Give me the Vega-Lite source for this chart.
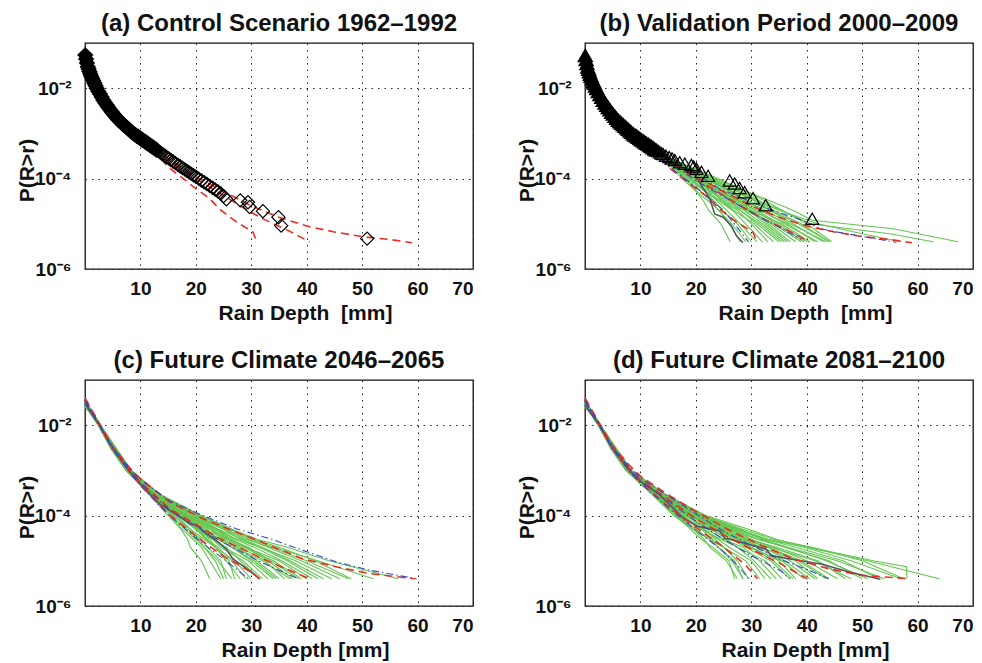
{
"$schema": "https://vega.github.io/schema/vega-lite/v6.json",
"background": "white",
"padding": {"left": 15, "top": 11, "right": 0, "bottom": 0},
"columns": 2,
"spacing": {"row": 111, "column": 112},
"bounds": "flush",
"datasets": {
"a": [
{"s":"m","k":"m","x":0.05,"p":0.054},{"s":"m","k":"m","x":0.2,"p":0.044},{"s":"m","k":"m","x":0.35,"p":0.036},{"s":"m","k":"m","x":0.5,"p":0.030},{"s":"m","k":"m","x":0.65,"p":0.0267},{"s":"m","k":"m","x":0.8,"p":0.0235},{"s":"m","k":"m","x":0.95,"p":0.0208},{"s":"m","k":"m","x":1.1,"p":0.0187},{"s":"m","k":"m","x":1.3,"p":0.0165},{"s":"m","k":"m","x":1.5,"p":0.0146},{"s":"m","k":"m","x":1.7,"p":0.0129},{"s":"m","k":"m","x":1.9,"p":0.0114},{"s":"m","k":"m","x":2.1,"p":0.0100},{"s":"m","k":"m","x":2.4,"p":0.0086},{"s":"m","k":"m","x":2.7,"p":0.0074},{"s":"m","k":"m","x":3.0,"p":0.0064},{"s":"m","k":"m","x":3.3,"p":0.0055},{"s":"m","k":"m","x":3.6,"p":0.0048},{"s":"m","k":"m","x":3.9,"p":0.0043},{"s":"m","k":"m","x":4.2,"p":0.0038},{"s":"m","k":"m","x":4.5,"p":0.0034},{"s":"m","k":"m","x":4.8,"p":0.0030},{"s":"m","k":"m","x":5.1,"p":0.00272},{"s":"m","k":"m","x":5.4,"p":0.00245},{"s":"m","k":"m","x":5.7,"p":0.00221},{"s":"m","k":"m","x":6.0,"p":0.0020},{"s":"m","k":"m","x":6.3,"p":0.00185},{"s":"m","k":"m","x":6.6,"p":0.00171},{"s":"m","k":"m","x":6.9,"p":0.00158},{"s":"m","k":"m","x":7.2,"p":0.00147},{"s":"m","k":"m","x":7.5,"p":0.00136},{"s":"m","k":"m","x":7.8,"p":0.00126},{"s":"m","k":"m","x":8.1,"p":0.00117},{"s":"m","k":"m","x":8.4,"p":0.00108},{"s":"m","k":"m","x":8.7,"p":0.0010},{"s":"m","k":"m","x":9.0,"p":0.00094},{"s":"m","k":"m","x":9.3,"p":0.00089},{"s":"m","k":"m","x":9.6,"p":0.00084},{"s":"m","k":"m","x":9.9,"p":0.00079},{"s":"m","k":"m","x":10.2,"p":0.00074},{"s":"m","k":"m","x":10.5,"p":0.00070},{"s":"m","k":"m","x":10.8,"p":0.00066},{"s":"m","k":"m","x":11.1,"p":0.00062},{"s":"m","k":"m","x":11.4,"p":0.00059},{"s":"m","k":"m","x":11.7,"p":0.00055},{"s":"m","k":"m","x":12.0,"p":0.00052},{"s":"m","k":"m","x":12.3,"p":0.00049},{"s":"m","k":"m","x":12.6,"p":0.00046},{"s":"m","k":"m","x":12.9,"p":0.000435},{"s":"m","k":"m","x":13.2,"p":0.00041},{"s":"m","k":"m","x":13.5,"p":0.000385},{"s":"m","k":"m","x":13.8,"p":0.00036},{"s":"m","k":"m","x":14.1,"p":0.00034},{"s":"m","k":"m","x":14.4,"p":0.00032},{"s":"m","k":"m","x":14.7,"p":0.00030},{"s":"m","k":"m","x":15.1,"p":0.00028},{"s":"m","k":"m","x":15.5,"p":0.000258},{"s":"m","k":"m","x":15.9,"p":0.000238},{"s":"m","k":"m","x":16.3,"p":0.00022},{"s":"m","k":"m","x":16.8,"p":0.00020},{"s":"m","k":"m","x":17.2,"p":0.000185},{"s":"m","k":"m","x":17.6,"p":0.000172},{"s":"m","k":"m","x":18.0,"p":0.00016},{"s":"m","k":"m","x":18.4,"p":0.000148},{"s":"m","k":"m","x":18.8,"p":0.000137},{"s":"m","k":"m","x":19.2,"p":0.000127},{"s":"m","k":"m","x":19.6,"p":0.000118},{"s":"m","k":"m","x":20.0,"p":0.00011},{"s":"m","k":"m","x":20.5,"p":0.0001},{"s":"m","k":"m","x":21.0,"p":0.000091},{"s":"m","k":"m","x":21.5,"p":0.000083},{"s":"m","k":"m","x":22.0,"p":0.000076},{"s":"m","k":"m","x":22.5,"p":0.000069},{"s":"m","k":"m","x":23.0,"p":0.000063},{"s":"m","k":"m","x":23.5,"p":0.000057},{"s":"m","k":"m","x":24.0,"p":0.000052},{"s":"m","k":"m","x":24.5,"p":0.000047},{"s":"m","k":"m","x":25.0,"p":0.000041},{"s":"m","k":"m","x":25.5,"p":0.000035},{"s":"m","k":"m","x":28.0,"p":0.000033},{"s":"m","k":"m","x":29.4,"p":0.000030},{"s":"m","k":"m","x":29.7,"p":0.0000235},{"s":"m","k":"m","x":32.1,"p":0.000019},{"s":"m","k":"m","x":34.9,"p":0.000014},{"s":"m","k":"m","x":35.4,"p":0.0000091},{"s":"m","k":"m","x":50.9,"p":0.0000047},
{"s":"rL","k":"r","x":0,"p":0.05},{"s":"rL","k":"r","x":2.1,"p":0.01},{"s":"rL","k":"r","x":4.8,"p":0.003},{"s":"rL","k":"r","x":8.7,"p":0.001},{"s":"rL","k":"r","x":12,"p":0.00046},{"s":"rL","k":"r","x":15,"p":0.00018},{"s":"rL","k":"r","x":17.5,"p":0.000105},{"s":"rL","k":"r","x":20,"p":0.00006},{"s":"rL","k":"r","x":22.5,"p":0.000036},{"s":"rL","k":"r","x":24.3,"p":0.000021},{"s":"rL","k":"r","x":27.3,"p":0.000011},{"s":"rL","k":"r","x":30.3,"p":0.0000066},{"s":"rL","k":"r","x":31,"p":0.000004},
{"s":"rM","k":"r","x":0,"p":0.05},{"s":"rM","k":"r","x":2.1,"p":0.01},{"s":"rM","k":"r","x":4.8,"p":0.003},{"s":"rM","k":"r","x":8.7,"p":0.001},{"s":"rM","k":"r","x":12.2,"p":0.0005},{"s":"rM","k":"r","x":15,"p":0.00025},{"s":"rM","k":"r","x":20,"p":0.0001},{"s":"rM","k":"r","x":24,"p":0.00005},{"s":"rM","k":"r","x":28,"p":0.000025},{"s":"rM","k":"r","x":32,"p":0.000013},{"s":"rM","k":"r","x":36,"p":0.0000078},{"s":"rM","k":"r","x":40.5,"p":0.000004},
{"s":"rU","k":"r","x":0,"p":0.05},{"s":"rU","k":"r","x":2.1,"p":0.01},{"s":"rU","k":"r","x":4.8,"p":0.003},{"s":"rU","k":"r","x":8.7,"p":0.001},{"s":"rU","k":"r","x":12.2,"p":0.0005},{"s":"rU","k":"r","x":15,"p":0.00028},{"s":"rU","k":"r","x":20,"p":0.00011},{"s":"rU","k":"r","x":25,"p":0.000052},{"s":"rU","k":"r","x":30,"p":0.000025},{"s":"rU","k":"r","x":35,"p":0.000014},{"s":"rU","k":"r","x":40,"p":0.0000089},{"s":"rU","k":"r","x":45,"p":0.0000066},{"s":"rU","k":"r","x":50,"p":0.0000052},{"s":"rU","k":"r","x":55,"p":0.0000045},{"s":"rU","k":"r","x":59,"p":0.0000038}
],
"b": [
{"s":"m","k":"m","x":0.05,"p":0.054},{"s":"m","k":"m","x":0.2,"p":0.044},{"s":"m","k":"m","x":0.35,"p":0.036},{"s":"m","k":"m","x":0.5,"p":0.030},{"s":"m","k":"m","x":0.65,"p":0.0267},{"s":"m","k":"m","x":0.8,"p":0.0235},{"s":"m","k":"m","x":0.95,"p":0.0208},{"s":"m","k":"m","x":1.1,"p":0.0187},{"s":"m","k":"m","x":1.3,"p":0.0165},{"s":"m","k":"m","x":1.5,"p":0.0146},{"s":"m","k":"m","x":1.7,"p":0.0129},{"s":"m","k":"m","x":1.9,"p":0.0114},{"s":"m","k":"m","x":2.1,"p":0.0100},{"s":"m","k":"m","x":2.4,"p":0.0086},{"s":"m","k":"m","x":2.7,"p":0.0074},{"s":"m","k":"m","x":3.0,"p":0.0064},{"s":"m","k":"m","x":3.3,"p":0.0055},{"s":"m","k":"m","x":3.6,"p":0.0048},{"s":"m","k":"m","x":3.9,"p":0.0043},{"s":"m","k":"m","x":4.2,"p":0.0038},{"s":"m","k":"m","x":4.5,"p":0.0034},{"s":"m","k":"m","x":4.8,"p":0.0030},{"s":"m","k":"m","x":5.1,"p":0.00272},{"s":"m","k":"m","x":5.4,"p":0.00245},{"s":"m","k":"m","x":5.7,"p":0.00221},{"s":"m","k":"m","x":6.0,"p":0.0020},{"s":"m","k":"m","x":6.3,"p":0.00185},{"s":"m","k":"m","x":6.6,"p":0.00171},{"s":"m","k":"m","x":6.9,"p":0.00158},{"s":"m","k":"m","x":7.2,"p":0.00147},{"s":"m","k":"m","x":7.5,"p":0.00136},{"s":"m","k":"m","x":7.8,"p":0.00126},{"s":"m","k":"m","x":8.1,"p":0.00117},{"s":"m","k":"m","x":8.4,"p":0.00108},{"s":"m","k":"m","x":8.7,"p":0.0010},{"s":"m","k":"m","x":9.0,"p":0.00094},{"s":"m","k":"m","x":9.3,"p":0.00089},{"s":"m","k":"m","x":9.6,"p":0.00084},{"s":"m","k":"m","x":9.9,"p":0.00079},{"s":"m","k":"m","x":10.2,"p":0.00074},{"s":"m","k":"m","x":10.5,"p":0.00070},{"s":"m","k":"m","x":10.8,"p":0.00066},{"s":"m","k":"m","x":11.1,"p":0.00062},{"s":"m","k":"m","x":11.4,"p":0.00059},{"s":"m","k":"m","x":11.7,"p":0.00055},{"s":"m","k":"m","x":12.0,"p":0.00052},{"s":"m","k":"m","x":12.3,"p":0.00049},{"s":"m","k":"m","x":12.6,"p":0.00046},{"s":"m","k":"m","x":12.9,"p":0.000435},{"s":"m","k":"m","x":13.2,"p":0.00041},{"s":"m","k":"m","x":13.5,"p":0.000385},{"s":"m","k":"m","x":13.8,"p":0.00036},
{"s":"m","k":"m","x":14.1,"p":0.00035},{"s":"m","k":"m","x":14.6,"p":0.00032},{"s":"m","k":"m","x":15.2,"p":0.00030},{"s":"m","k":"m","x":15.7,"p":0.00028},{"s":"m","k":"m","x":16.2,"p":0.000257},{"s":"m","k":"m","x":17.1,"p":0.00023},{"s":"m","k":"m","x":18.0,"p":0.000214},{"s":"m","k":"m","x":19.2,"p":0.0002},{"s":"m","k":"m","x":19.6,"p":0.000185},{"s":"m","k":"m","x":20.1,"p":0.000166},{"s":"m","k":"m","x":21.0,"p":0.000141},{"s":"m","k":"m","x":22.2,"p":0.000115},{"s":"m","k":"m","x":26.1,"p":0.000091},{"s":"m","k":"m","x":27.0,"p":0.000078},{"s":"m","k":"m","x":27.9,"p":0.000062},{"s":"m","k":"m","x":28.8,"p":0.00005},{"s":"m","k":"m","x":30.3,"p":0.000037},{"s":"m","k":"m","x":32.6,"p":0.0000257},{"s":"m","k":"m","x":41.0,"p":0.0000129},
{"s":"rL","k":"r","x":0,"p":0.05},{"s":"rL","k":"r","x":2.1,"p":0.01},{"s":"rL","k":"r","x":4.8,"p":0.003},{"s":"rL","k":"r","x":8.7,"p":0.001},{"s":"rL","k":"r","x":12,"p":0.00046},{"s":"rL","k":"r","x":15,"p":0.00018},{"s":"rL","k":"r","x":17.5,"p":0.000105},{"s":"rL","k":"r","x":20,"p":0.00006},{"s":"rL","k":"r","x":22.5,"p":0.000036},{"s":"rL","k":"r","x":24.3,"p":0.000021},{"s":"rL","k":"r","x":27.3,"p":0.000011},{"s":"rL","k":"r","x":30.3,"p":0.0000066},{"s":"rL","k":"r","x":31,"p":0.000004},
{"s":"rM","k":"r","x":0,"p":0.05},{"s":"rM","k":"r","x":2.1,"p":0.01},{"s":"rM","k":"r","x":4.8,"p":0.003},{"s":"rM","k":"r","x":8.7,"p":0.001},{"s":"rM","k":"r","x":12.2,"p":0.0005},{"s":"rM","k":"r","x":15,"p":0.00025},{"s":"rM","k":"r","x":20,"p":0.0001},{"s":"rM","k":"r","x":24,"p":0.00005},{"s":"rM","k":"r","x":28,"p":0.000025},{"s":"rM","k":"r","x":32,"p":0.000013},{"s":"rM","k":"r","x":36,"p":0.0000078},{"s":"rM","k":"r","x":40.5,"p":0.000004},
{"s":"rU","k":"r","x":0,"p":0.05},{"s":"rU","k":"r","x":2.1,"p":0.01},{"s":"rU","k":"r","x":4.8,"p":0.003},{"s":"rU","k":"r","x":8.7,"p":0.001},{"s":"rU","k":"r","x":12.2,"p":0.0005},{"s":"rU","k":"r","x":15,"p":0.00028},{"s":"rU","k":"r","x":20,"p":0.00011},{"s":"rU","k":"r","x":25,"p":0.000052},{"s":"rU","k":"r","x":30,"p":0.000025},{"s":"rU","k":"r","x":35,"p":0.000014},{"s":"rU","k":"r","x":40,"p":0.0000089},{"s":"rU","k":"r","x":45,"p":0.0000066},{"s":"rU","k":"r","x":50,"p":0.0000052},{"s":"rU","k":"r","x":55,"p":0.0000045},{"s":"rU","k":"r","x":59,"p":0.0000038},
{"s":"bL","k":"b","x":0,"p":0.05},{"s":"bL","k":"b","x":2.1,"p":0.01},{"s":"bL","k":"b","x":4.8,"p":0.003},{"s":"bL","k":"b","x":8.7,"p":0.001},{"s":"bL","k":"b","x":12,"p":0.00047},{"s":"bL","k":"b","x":15,"p":0.00019},{"s":"bL","k":"b","x":20,"p":0.000065},{"s":"bL","k":"b","x":25,"p":0.00002},{"s":"bL","k":"b","x":29.5,"p":0.000004},
{"s":"bM","k":"b","x":0,"p":0.05},{"s":"bM","k":"b","x":2.1,"p":0.01},{"s":"bM","k":"b","x":4.8,"p":0.003},{"s":"bM","k":"b","x":8.7,"p":0.001},{"s":"bM","k":"b","x":12.2,"p":0.0005},{"s":"bM","k":"b","x":15,"p":0.00024},{"s":"bM","k":"b","x":20,"p":0.00009},{"s":"bM","k":"b","x":25,"p":0.00004},{"s":"bM","k":"b","x":30,"p":0.000018},{"s":"bM","k":"b","x":35,"p":0.0000085},{"s":"bM","k":"b","x":39,"p":0.0000045},
{"s":"bU","k":"b","x":0,"p":0.05},{"s":"bU","k":"b","x":2.1,"p":0.01},{"s":"bU","k":"b","x":4.8,"p":0.003},{"s":"bU","k":"b","x":8.7,"p":0.001},{"s":"bU","k":"b","x":12.2,"p":0.0005},{"s":"bU","k":"b","x":15,"p":0.0003},{"s":"bU","k":"b","x":20,"p":0.00013},{"s":"bU","k":"b","x":24.3,"p":0.00006},{"s":"bU","k":"b","x":33.3,"p":0.000021},{"s":"bU","k":"b","x":39.6,"p":0.0000115},{"s":"bU","k":"b","x":42.6,"p":0.0000078},{"s":"bU","k":"b","x":44.4,"p":0.0000069},{"s":"bU","k":"b","x":56.2,"p":0.0000039},
{"s":"k","k":"k","x":0,"p":0.05},{"s":"k","k":"k","x":2.1,"p":0.01},{"s":"k","k":"k","x":4.8,"p":0.003},{"s":"k","k":"k","x":8.7,"p":0.001},{"s":"k","k":"k","x":12.2,"p":0.0005},{"s":"k","k":"k","x":15,"p":0.00025},{"s":"k","k":"k","x":19.5,"p":0.00014},{"s":"k","k":"k","x":20.6,"p":0.000085},{"s":"k","k":"k","x":22.5,"p":0.000036},{"s":"k","k":"k","x":23.4,"p":0.0000166},{"s":"k","k":"k","x":24.9,"p":0.000014},{"s":"k","k":"k","x":26.4,"p":0.0000091},{"s":"k","k":"k","x":27.3,"p":0.0000055},{"s":"k","k":"k","x":28.5,"p":0.0000038},
{"s":"g1","k":"g","x":0,"p":0.045},{"s":"g1","k":"g","x":2.1,"p":0.01},{"s":"g1","k":"g","x":4.8,"p":0.003},{"s":"g1","k":"g","x":8.7,"p":0.001},{"s":"g1","k":"g","x":12.2,"p":0.0005},{"s":"g1","k":"g","x":14.0,"p":0.0003},{"s":"g1","k":"g","x":17.5,"p":0.0001},{"s":"g1","k":"g","x":20.2,"p":0.00005},{"s":"g1","k":"g","x":21.5,"p":0.00003},{"s":"g1","k":"g","x":22.3,"p":0.00002},{"s":"g1","k":"g","x":24.5,"p":0.00001},{"s":"g1","k":"g","x":26.2,"p":0.000004},
{"s":"g2","k":"g","x":0,"p":0.045},{"s":"g2","k":"g","x":2.1,"p":0.01},{"s":"g2","k":"g","x":4.8,"p":0.003},{"s":"g2","k":"g","x":8.7,"p":0.001},{"s":"g2","k":"g","x":12.2,"p":0.0005},{"s":"g2","k":"g","x":14.0,"p":0.0003},{"s":"g2","k":"g","x":18.0,"p":0.0001},{"s":"g2","k":"g","x":20.3,"p":0.00005},{"s":"g2","k":"g","x":22.5,"p":0.00003},{"s":"g2","k":"g","x":24.2,"p":0.00002},{"s":"g2","k":"g","x":26.0,"p":0.00001},{"s":"g2","k":"g","x":28.0,"p":0.000004},
{"s":"g3","k":"g","x":0,"p":0.045},{"s":"g3","k":"g","x":2.1,"p":0.01},{"s":"g3","k":"g","x":4.8,"p":0.003},{"s":"g3","k":"g","x":8.7,"p":0.001},{"s":"g3","k":"g","x":12.2,"p":0.0005},{"s":"g3","k":"g","x":14.2,"p":0.0003},{"s":"g3","k":"g","x":18.5,"p":0.0001},{"s":"g3","k":"g","x":21.8,"p":0.00005},{"s":"g3","k":"g","x":23.5,"p":0.00003},{"s":"g3","k":"g","x":24.7,"p":0.00002},{"s":"g3","k":"g","x":27.5,"p":0.00001},{"s":"g3","k":"g","x":30.0,"p":0.000004},
{"s":"g4","k":"g","x":0,"p":0.045},{"s":"g4","k":"g","x":2.1,"p":0.01},{"s":"g4","k":"g","x":4.8,"p":0.003},{"s":"g4","k":"g","x":8.7,"p":0.001},{"s":"g4","k":"g","x":12.2,"p":0.0005},{"s":"g4","k":"g","x":14.2,"p":0.0003},{"s":"g4","k":"g","x":19.0,"p":0.0001},{"s":"g4","k":"g","x":21.9,"p":0.00005},{"s":"g4","k":"g","x":24.5,"p":0.00003},{"s":"g4","k":"g","x":26.6,"p":0.00002},{"s":"g4","k":"g","x":29.0,"p":0.00001},{"s":"g4","k":"g","x":32.0,"p":0.000004},
{"s":"g5","k":"g","x":0,"p":0.045},{"s":"g5","k":"g","x":2.1,"p":0.01},{"s":"g5","k":"g","x":4.8,"p":0.003},{"s":"g5","k":"g","x":8.7,"p":0.001},{"s":"g5","k":"g","x":12.2,"p":0.0005},{"s":"g5","k":"g","x":14.3,"p":0.0003},{"s":"g5","k":"g","x":19.5,"p":0.0001},{"s":"g5","k":"g","x":23.1,"p":0.00005},{"s":"g5","k":"g","x":25.0,"p":0.00003},{"s":"g5","k":"g","x":26.8,"p":0.00002},{"s":"g5","k":"g","x":30.5,"p":0.00001},{"s":"g5","k":"g","x":34.0,"p":0.000004},
{"s":"g6","k":"g","x":0,"p":0.045},{"s":"g6","k":"g","x":2.1,"p":0.01},{"s":"g6","k":"g","x":4.8,"p":0.003},{"s":"g6","k":"g","x":8.7,"p":0.001},{"s":"g6","k":"g","x":12.2,"p":0.0005},{"s":"g6","k":"g","x":14.4,"p":0.0003},{"s":"g6","k":"g","x":20.0,"p":0.0001},{"s":"g6","k":"g","x":23.2,"p":0.00005},{"s":"g6","k":"g","x":26.0,"p":0.00003},{"s":"g6","k":"g","x":28.7,"p":0.00002},{"s":"g6","k":"g","x":32.0,"p":0.00001},{"s":"g6","k":"g","x":36.0,"p":0.000004},
{"s":"g7","k":"g","x":0,"p":0.045},{"s":"g7","k":"g","x":2.1,"p":0.01},{"s":"g7","k":"g","x":4.8,"p":0.003},{"s":"g7","k":"g","x":8.7,"p":0.001},{"s":"g7","k":"g","x":12.2,"p":0.0005},{"s":"g7","k":"g","x":14.5,"p":0.0003},{"s":"g7","k":"g","x":20.5,"p":0.0001},{"s":"g7","k":"g","x":24.7,"p":0.00005},{"s":"g7","k":"g","x":27.0,"p":0.00003},{"s":"g7","k":"g","x":29.0,"p":0.00002},{"s":"g7","k":"g","x":33.5,"p":0.00001},{"s":"g7","k":"g","x":38.0,"p":0.000004},
{"s":"g8","k":"g","x":0,"p":0.045},{"s":"g8","k":"g","x":2.1,"p":0.01},{"s":"g8","k":"g","x":4.8,"p":0.003},{"s":"g8","k":"g","x":8.7,"p":0.001},{"s":"g8","k":"g","x":12.2,"p":0.0005},{"s":"g8","k":"g","x":14.5,"p":0.0003},{"s":"g8","k":"g","x":21.0,"p":0.0001},{"s":"g8","k":"g","x":24.8,"p":0.00005},{"s":"g8","k":"g","x":28.0,"p":0.00003},{"s":"g8","k":"g","x":31.0,"p":0.00002},{"s":"g8","k":"g","x":35.0,"p":0.00001},{"s":"g8","k":"g","x":40.0,"p":0.000004},
{"s":"g9","k":"g","x":0,"p":0.045},{"s":"g9","k":"g","x":2.1,"p":0.01},{"s":"g9","k":"g","x":4.8,"p":0.003},{"s":"g9","k":"g","x":8.7,"p":0.001},{"s":"g9","k":"g","x":12.2,"p":0.0005},{"s":"g9","k":"g","x":14.6,"p":0.0003},{"s":"g9","k":"g","x":21.5,"p":0.0001},{"s":"g9","k":"g","x":26.3,"p":0.00005},{"s":"g9","k":"g","x":29.0,"p":0.00003},{"s":"g9","k":"g","x":31.4,"p":0.00002},{"s":"g9","k":"g","x":36.5,"p":0.00001},{"s":"g9","k":"g","x":41.5,"p":0.000004},
{"s":"g10","k":"g","x":0,"p":0.045},{"s":"g10","k":"g","x":2.1,"p":0.01},{"s":"g10","k":"g","x":4.8,"p":0.003},{"s":"g10","k":"g","x":8.7,"p":0.001},{"s":"g10","k":"g","x":12.2,"p":0.0005},{"s":"g10","k":"g","x":14.7,"p":0.0003},{"s":"g10","k":"g","x":22.0,"p":0.0001},{"s":"g10","k":"g","x":26.3,"p":0.00005},{"s":"g10","k":"g","x":30.0,"p":0.00003},{"s":"g10","k":"g","x":33.3,"p":0.00002},{"s":"g10","k":"g","x":37.5,"p":0.00001},{"s":"g10","k":"g","x":43.0,"p":0.000004},
{"s":"g11","k":"g","x":0,"p":0.045},{"s":"g11","k":"g","x":2.1,"p":0.01},{"s":"g11","k":"g","x":4.8,"p":0.003},{"s":"g11","k":"g","x":8.7,"p":0.001},{"s":"g11","k":"g","x":12.2,"p":0.0005},{"s":"g11","k":"g","x":14.8,"p":0.0003},{"s":"g11","k":"g","x":22.5,"p":0.0001},{"s":"g11","k":"g","x":27.8,"p":0.00005},{"s":"g11","k":"g","x":31.0,"p":0.00003},{"s":"g11","k":"g","x":33.4,"p":0.00002},{"s":"g11","k":"g","x":38.5,"p":0.00001},{"s":"g11","k":"g","x":44.1,"p":0.000004},
{"s":"g12","k":"g","x":0,"p":0.045},{"s":"g12","k":"g","x":2.1,"p":0.01},{"s":"g12","k":"g","x":4.8,"p":0.003},{"s":"g12","k":"g","x":8.7,"p":0.001},{"s":"g12","k":"g","x":12.2,"p":0.0005},{"s":"g12","k":"g","x":14.6,"p":0.0003},{"s":"g12","k":"g","x":21.0,"p":0.0001},{"s":"g12","k":"g","x":25.2,"p":0.00005},{"s":"g12","k":"g","x":27.5,"p":0.00003},{"s":"g12","k":"g","x":29.6,"p":0.00002},{"s":"g12","k":"g","x":34.0,"p":0.00001},{"s":"g12","k":"g","x":39.0,"p":0.000004},
{"s":"g13","k":"g","x":0,"p":0.045},{"s":"g13","k":"g","x":2.1,"p":0.01},{"s":"g13","k":"g","x":4.8,"p":0.003},{"s":"g13","k":"g","x":8.7,"p":0.001},{"s":"g13","k":"g","x":12.2,"p":0.0005},{"s":"g13","k":"g","x":14.3,"p":0.0003},{"s":"g13","k":"g","x":19.8,"p":0.0001},{"s":"g13","k":"g","x":22.8,"p":0.00005},{"s":"g13","k":"g","x":25.5,"p":0.00003},{"s":"g13","k":"g","x":28.0,"p":0.00002},{"s":"g13","k":"g","x":31.0,"p":0.00001},{"s":"g13","k":"g","x":35.0,"p":0.000004},
{"s":"g14","k":"g","x":0,"p":0.045},{"s":"g14","k":"g","x":2.1,"p":0.01},{"s":"g14","k":"g","x":4.8,"p":0.003},{"s":"g14","k":"g","x":8.7,"p":0.001},{"s":"g14","k":"g","x":12.2,"p":0.0005},{"s":"g14","k":"g","x":14.8,"p":0.0003},{"s":"g14","k":"g","x":23.5,"p":0.0001},{"s":"g14","k":"g","x":29.3,"p":0.00005},{"s":"g14","k":"g","x":33.0,"p":0.00003},{"s":"g14","k":"g","x":35.5,"p":0.00002},{"s":"g14","k":"g","x":40.5,"p":0.00001},{"s":"g14","k":"g","x":55.0,"p":0.000006},{"s":"g14","k":"g","x":62.8,"p":0.000004},
{"s":"g15","k":"g","x":0,"p":0.045},{"s":"g15","k":"g","x":2.1,"p":0.01},{"s":"g15","k":"g","x":4.8,"p":0.003},{"s":"g15","k":"g","x":8.7,"p":0.001},{"s":"g15","k":"g","x":12.2,"p":0.0005},{"s":"g15","k":"g","x":14.8,"p":0.0003},{"s":"g15","k":"g","x":24.0,"p":0.0001},{"s":"g15","k":"g","x":29.5,"p":0.00005},{"s":"g15","k":"g","x":34.0,"p":0.00003},{"s":"g15","k":"g","x":37.5,"p":0.00002},{"s":"g15","k":"g","x":41.0,"p":0.000012},{"s":"g15","k":"g","x":55.6,"p":0.0000078},{"s":"g15","k":"g","x":67.3,"p":0.000004},
{"s":"g16","k":"g","x":0,"p":0.045},{"s":"g16","k":"g","x":2.1,"p":0.01},{"s":"g16","k":"g","x":4.8,"p":0.003},{"s":"g16","k":"g","x":8.7,"p":0.001},{"s":"g16","k":"g","x":12.2,"p":0.0005},{"s":"g16","k":"g","x":14.7,"p":0.0003},{"s":"g16","k":"g","x":22.5,"p":0.0001},{"s":"g16","k":"g","x":28.0,"p":0.00005},{"s":"g16","k":"g","x":31.5,"p":0.00003},{"s":"g16","k":"g","x":35.0,"p":0.00002},{"s":"g16","k":"g","x":42.0,"p":0.00001},{"s":"g16","k":"g","x":50.0,"p":0.000006},{"s":"g16","k":"g","x":57.0,"p":0.000004},
{"s":"g17","k":"g","x":12.2,"p":0.0005},{"s":"g17","k":"g","x":14.1,"p":0.0003},{"s":"g17","k":"g","x":18.2,"p":0.0001},{"s":"g17","k":"g","x":21.0,"p":0.00005},{"s":"g17","k":"g","x":23.0,"p":0.00003},{"s":"g17","k":"g","x":24.0,"p":0.00002},{"s":"g17","k":"g","x":26.5,"p":0.00001},{"s":"g17","k":"g","x":29.0,"p":0.000004},
{"s":"g18","k":"g","x":12.2,"p":0.0005},{"s":"g18","k":"g","x":14.3,"p":0.0003},{"s":"g18","k":"g","x":18.8,"p":0.0001},{"s":"g18","k":"g","x":22.5,"p":0.00005},{"s":"g18","k":"g","x":24.0,"p":0.00003},{"s":"g18","k":"g","x":25.5,"p":0.00002},{"s":"g18","k":"g","x":28.0,"p":0.00001},{"s":"g18","k":"g","x":31.0,"p":0.000004},
{"s":"g19","k":"g","x":12.2,"p":0.0005},{"s":"g19","k":"g","x":14.4,"p":0.0003},{"s":"g19","k":"g","x":19.3,"p":0.0001},{"s":"g19","k":"g","x":22.0,"p":0.00005},{"s":"g19","k":"g","x":25.0,"p":0.00003},{"s":"g19","k":"g","x":27.5,"p":0.00002},{"s":"g19","k":"g","x":30.0,"p":0.00001},{"s":"g19","k":"g","x":33.0,"p":0.000004},
{"s":"g20","k":"g","x":12.2,"p":0.0005},{"s":"g20","k":"g","x":14.5,"p":0.0003},{"s":"g20","k":"g","x":19.8,"p":0.0001},{"s":"g20","k":"g","x":23.8,"p":0.00005},{"s":"g20","k":"g","x":26.5,"p":0.00003},{"s":"g20","k":"g","x":28.0,"p":0.00002},{"s":"g20","k":"g","x":31.5,"p":0.00001},{"s":"g20","k":"g","x":35.5,"p":0.000004},
{"s":"g21","k":"g","x":12.2,"p":0.0005},{"s":"g21","k":"g","x":14.6,"p":0.0003},{"s":"g21","k":"g","x":20.3,"p":0.0001},{"s":"g21","k":"g","x":24.0,"p":0.00005},{"s":"g21","k":"g","x":27.5,"p":0.00003},{"s":"g21","k":"g","x":30.0,"p":0.00002},{"s":"g21","k":"g","x":33.0,"p":0.00001},{"s":"g21","k":"g","x":37.0,"p":0.000004},
{"s":"g22","k":"g","x":12.2,"p":0.0005},{"s":"g22","k":"g","x":14.7,"p":0.0003},{"s":"g22","k":"g","x":20.8,"p":0.0001},{"s":"g22","k":"g","x":25.5,"p":0.00005},{"s":"g22","k":"g","x":28.5,"p":0.00003},{"s":"g22","k":"g","x":30.5,"p":0.00002},{"s":"g22","k":"g","x":34.5,"p":0.00001},{"s":"g22","k":"g","x":39.5,"p":0.000004},
{"s":"g23","k":"g","x":12.2,"p":0.0005},{"s":"g23","k":"g","x":14.7,"p":0.0003},{"s":"g23","k":"g","x":21.3,"p":0.0001},{"s":"g23","k":"g","x":25.0,"p":0.00005},{"s":"g23","k":"g","x":29.5,"p":0.00003},{"s":"g23","k":"g","x":32.0,"p":0.00002},{"s":"g23","k":"g","x":36.0,"p":0.00001},{"s":"g23","k":"g","x":42.0,"p":0.000004},
{"s":"g24","k":"g","x":12.2,"p":0.0005},{"s":"g24","k":"g","x":14.8,"p":0.0003},{"s":"g24","k":"g","x":21.8,"p":0.0001},{"s":"g24","k":"g","x":26.8,"p":0.00005},{"s":"g24","k":"g","x":29.5,"p":0.00003},{"s":"g24","k":"g","x":32.5,"p":0.00002},{"s":"g24","k":"g","x":37.0,"p":0.00001},{"s":"g24","k":"g","x":43.5,"p":0.000004},
{"s":"g25","k":"g","x":12.2,"p":0.0005},{"s":"g25","k":"g","x":14.9,"p":0.0003},{"s":"g25","k":"g","x":22.3,"p":0.0001},{"s":"g25","k":"g","x":27.0,"p":0.00005},{"s":"g25","k":"g","x":31.5,"p":0.00003},{"s":"g25","k":"g","x":34.0,"p":0.00002},{"s":"g25","k":"g","x":39.0,"p":0.00001},{"s":"g25","k":"g","x":44.0,"p":0.000004},
{"s":"g26","k":"g","x":12.2,"p":0.0005},{"s":"g26","k":"g","x":14.5,"p":0.0003},{"s":"g26","k":"g","x":20.0,"p":0.0001},{"s":"g26","k":"g","x":24.5,"p":0.00005},{"s":"g26","k":"g","x":26.5,"p":0.00003},{"s":"g26","k":"g","x":29.5,"p":0.00002},{"s":"g26","k":"g","x":32.5,"p":0.00001},{"s":"g26","k":"g","x":36.5,"p":0.000004},
{"s":"g27","k":"g","x":12.2,"p":0.0005},{"s":"g27","k":"g","x":14.6,"p":0.0003},{"s":"g27","k":"g","x":21.2,"p":0.0001},{"s":"g27","k":"g","x":24.8,"p":0.00005},{"s":"g27","k":"g","x":28.3,"p":0.00003},{"s":"g27","k":"g","x":29.8,"p":0.00002},{"s":"g27","k":"g","x":35.5,"p":0.00001},{"s":"g27","k":"g","x":40.5,"p":0.000004},
{"s":"g28","k":"g","x":12.2,"p":0.0005},{"s":"g28","k":"g","x":14.9,"p":0.0003},{"s":"g28","k":"g","x":23.0,"p":0.0001},{"s":"g28","k":"g","x":28.5,"p":0.00005},{"s":"g28","k":"g","x":32.0,"p":0.00003},{"s":"g28","k":"g","x":35.5,"p":0.00002},{"s":"g28","k":"g","x":40.0,"p":0.00001},{"s":"g28","k":"g","x":44.5,"p":0.000004}
],
"c": [
{"s":"g1","k":"g","x":0,"p":0.028},{"s":"g1","k":"g","x":2.4,"p":0.01},{"s":"g1","k":"g","x":4.7,"p":0.003},{"s":"g1","k":"g","x":7.4,"p":0.001},{"s":"g1","k":"g","x":11.5,"p":0.0003},{"s":"g1","k":"g","x":15.0,"p":0.0001},{"s":"g1","k":"g","x":17.3,"p":0.00005},{"s":"g1","k":"g","x":18.5,"p":0.00003},{"s":"g1","k":"g","x":19.0,"p":0.00002},{"s":"g1","k":"g","x":21.0,"p":0.00001},{"s":"g1","k":"g","x":22.5,"p":0.000004},
{"s":"g2","k":"g","x":0,"p":0.028},{"s":"g2","k":"g","x":2.4,"p":0.01},{"s":"g2","k":"g","x":4.7,"p":0.003},{"s":"g2","k":"g","x":7.4,"p":0.001},{"s":"g2","k":"g","x":11.8,"p":0.0003},{"s":"g2","k":"g","x":15.5,"p":0.0001},{"s":"g2","k":"g","x":17.5,"p":0.00005},{"s":"g2","k":"g","x":19.5,"p":0.00003},{"s":"g2","k":"g","x":21.0,"p":0.00002},{"s":"g2","k":"g","x":22.5,"p":0.00001},{"s":"g2","k":"g","x":24.5,"p":0.000004},
{"s":"g3","k":"g","x":0,"p":0.030},{"s":"g3","k":"g","x":2.5,"p":0.01},{"s":"g3","k":"g","x":4.9,"p":0.003},{"s":"g3","k":"g","x":7.7,"p":0.001},{"s":"g3","k":"g","x":12.0,"p":0.0003},{"s":"g3","k":"g","x":16.0,"p":0.0001},{"s":"g3","k":"g","x":19.0,"p":0.00005},{"s":"g3","k":"g","x":20.5,"p":0.00003},{"s":"g3","k":"g","x":21.5,"p":0.00002},{"s":"g3","k":"g","x":24.0,"p":0.00001},{"s":"g3","k":"g","x":26.5,"p":0.000004},
{"s":"g4","k":"g","x":0,"p":0.030},{"s":"g4","k":"g","x":2.5,"p":0.01},{"s":"g4","k":"g","x":4.9,"p":0.003},{"s":"g4","k":"g","x":7.7,"p":0.001},{"s":"g4","k":"g","x":12.0,"p":0.0003},{"s":"g4","k":"g","x":16.5,"p":0.0001},{"s":"g4","k":"g","x":19.0,"p":0.00005},{"s":"g4","k":"g","x":21.5,"p":0.00003},{"s":"g4","k":"g","x":23.5,"p":0.00002},{"s":"g4","k":"g","x":25.5,"p":0.00001},{"s":"g4","k":"g","x":28.0,"p":0.000004},
{"s":"g5","k":"g","x":0,"p":0.032},{"s":"g5","k":"g","x":2.6,"p":0.01},{"s":"g5","k":"g","x":5.0,"p":0.003},{"s":"g5","k":"g","x":7.9,"p":0.001},{"s":"g5","k":"g","x":12.2,"p":0.0003},{"s":"g5","k":"g","x":16.8,"p":0.0001},{"s":"g5","k":"g","x":20.3,"p":0.00005},{"s":"g5","k":"g","x":22.0,"p":0.00003},{"s":"g5","k":"g","x":23.5,"p":0.00002},{"s":"g5","k":"g","x":27.0,"p":0.00001},{"s":"g5","k":"g","x":30.0,"p":0.000004},
{"s":"g6","k":"g","x":0,"p":0.026},{"s":"g6","k":"g","x":2.7,"p":0.01},{"s":"g6","k":"g","x":5.2,"p":0.003},{"s":"g6","k":"g","x":8.1,"p":0.001},{"s":"g6","k":"g","x":12.3,"p":0.0003},{"s":"g6","k":"g","x":17.0,"p":0.0001},{"s":"g6","k":"g","x":20.0,"p":0.00005},{"s":"g6","k":"g","x":23.0,"p":0.00003},{"s":"g6","k":"g","x":25.5,"p":0.00002},{"s":"g6","k":"g","x":28.0,"p":0.00001},{"s":"g6","k":"g","x":31.5,"p":0.000004},
{"s":"g7","k":"g","x":0,"p":0.032},{"s":"g7","k":"g","x":2.6,"p":0.01},{"s":"g7","k":"g","x":5.0,"p":0.003},{"s":"g7","k":"g","x":7.9,"p":0.001},{"s":"g7","k":"g","x":12.4,"p":0.0003},{"s":"g7","k":"g","x":17.5,"p":0.0001},{"s":"g7","k":"g","x":21.5,"p":0.00005},{"s":"g7","k":"g","x":23.5,"p":0.00003},{"s":"g7","k":"g","x":25.0,"p":0.00002},{"s":"g7","k":"g","x":29.5,"p":0.00001},{"s":"g7","k":"g","x":33.0,"p":0.000004},
{"s":"g8","k":"g","x":0,"p":0.030},{"s":"g8","k":"g","x":2.5,"p":0.01},{"s":"g8","k":"g","x":4.9,"p":0.003},{"s":"g8","k":"g","x":7.7,"p":0.001},{"s":"g8","k":"g","x":12.5,"p":0.0003},{"s":"g8","k":"g","x":17.5,"p":0.0001},{"s":"g8","k":"g","x":21.0,"p":0.00005},{"s":"g8","k":"g","x":24.5,"p":0.00003},{"s":"g8","k":"g","x":27.5,"p":0.00002},{"s":"g8","k":"g","x":31.0,"p":0.00001},{"s":"g8","k":"g","x":35.0,"p":0.000004},
{"s":"g9","k":"g","x":0,"p":0.032},{"s":"g9","k":"g","x":2.6,"p":0.01},{"s":"g9","k":"g","x":5.0,"p":0.003},{"s":"g9","k":"g","x":7.9,"p":0.001},{"s":"g9","k":"g","x":12.6,"p":0.0003},{"s":"g9","k":"g","x":18.0,"p":0.0001},{"s":"g9","k":"g","x":22.5,"p":0.00005},{"s":"g9","k":"g","x":25.0,"p":0.00003},{"s":"g9","k":"g","x":27.0,"p":0.00002},{"s":"g9","k":"g","x":32.0,"p":0.00001},{"s":"g9","k":"g","x":37.0,"p":0.000004},
{"s":"g10","k":"g","x":0,"p":0.026},{"s":"g10","k":"g","x":2.7,"p":0.01},{"s":"g10","k":"g","x":5.2,"p":0.003},{"s":"g10","k":"g","x":8.1,"p":0.001},{"s":"g10","k":"g","x":12.7,"p":0.0003},{"s":"g10","k":"g","x":18.5,"p":0.0001},{"s":"g10","k":"g","x":22.5,"p":0.00005},{"s":"g10","k":"g","x":26.0,"p":0.00003},{"s":"g10","k":"g","x":29.5,"p":0.00002},{"s":"g10","k":"g","x":33.5,"p":0.00001},{"s":"g10","k":"g","x":38.5,"p":0.000004},
{"s":"g11","k":"g","x":0,"p":0.035},{"s":"g11","k":"g","x":2.8,"p":0.01},{"s":"g11","k":"g","x":5.3,"p":0.003},{"s":"g11","k":"g","x":8.3,"p":0.001},{"s":"g11","k":"g","x":12.8,"p":0.0003},{"s":"g11","k":"g","x":18.5,"p":0.0001},{"s":"g11","k":"g","x":23.5,"p":0.00005},{"s":"g11","k":"g","x":26.5,"p":0.00003},{"s":"g11","k":"g","x":29.0,"p":0.00002},{"s":"g11","k":"g","x":35.0,"p":0.00001},{"s":"g11","k":"g","x":40.0,"p":0.000004},
{"s":"g12","k":"g","x":0,"p":0.032},{"s":"g12","k":"g","x":2.6,"p":0.01},{"s":"g12","k":"g","x":5.0,"p":0.003},{"s":"g12","k":"g","x":7.9,"p":0.001},{"s":"g12","k":"g","x":12.9,"p":0.0003},{"s":"g12","k":"g","x":19.0,"p":0.0001},{"s":"g12","k":"g","x":23.5,"p":0.00005},{"s":"g12","k":"g","x":27.5,"p":0.00003},{"s":"g12","k":"g","x":31.5,"p":0.00002},{"s":"g12","k":"g","x":36.5,"p":0.00001},{"s":"g12","k":"g","x":42.0,"p":0.000004},
{"s":"g13","k":"g","x":0,"p":0.035},{"s":"g13","k":"g","x":2.8,"p":0.01},{"s":"g13","k":"g","x":5.3,"p":0.003},{"s":"g13","k":"g","x":8.3,"p":0.001},{"s":"g13","k":"g","x":13.0,"p":0.0003},{"s":"g13","k":"g","x":19.5,"p":0.0001},{"s":"g13","k":"g","x":25.0,"p":0.00005},{"s":"g13","k":"g","x":28.0,"p":0.00003},{"s":"g13","k":"g","x":31.5,"p":0.00002},{"s":"g13","k":"g","x":38.0,"p":0.00001},{"s":"g13","k":"g","x":44.5,"p":0.000004},
{"s":"g14","k":"g","x":0,"p":0.026},{"s":"g14","k":"g","x":2.7,"p":0.01},{"s":"g14","k":"g","x":5.2,"p":0.003},{"s":"g14","k":"g","x":8.1,"p":0.001},{"s":"g14","k":"g","x":13.1,"p":0.0003},{"s":"g14","k":"g","x":20.0,"p":0.0001},{"s":"g14","k":"g","x":25.0,"p":0.00005},{"s":"g14","k":"g","x":29.0,"p":0.00003},{"s":"g14","k":"g","x":33.5,"p":0.00002},{"s":"g14","k":"g","x":40.0,"p":0.00001},{"s":"g14","k":"g","x":47.5,"p":0.000004},
{"s":"g15","k":"g","x":0,"p":0.035},{"s":"g15","k":"g","x":2.8,"p":0.01},{"s":"g15","k":"g","x":5.3,"p":0.003},{"s":"g15","k":"g","x":8.3,"p":0.001},{"s":"g15","k":"g","x":13.2,"p":0.0003},{"s":"g15","k":"g","x":20.5,"p":0.0001},{"s":"g15","k":"g","x":26.5,"p":0.00005},{"s":"g15","k":"g","x":30.0,"p":0.00003},{"s":"g15","k":"g","x":34.0,"p":0.00002},{"s":"g15","k":"g","x":42.0,"p":0.00001},{"s":"g15","k":"g","x":52.0,"p":0.000004},
{"s":"g16","k":"g","x":0,"p":0.035},{"s":"g16","k":"g","x":2.8,"p":0.01},{"s":"g16","k":"g","x":5.3,"p":0.003},{"s":"g16","k":"g","x":8.3,"p":0.001},{"s":"g16","k":"g","x":13.4,"p":0.0003},{"s":"g16","k":"g","x":21.0,"p":0.0001},{"s":"g16","k":"g","x":26.5,"p":0.00005},{"s":"g16","k":"g","x":31.0,"p":0.00003},{"s":"g16","k":"g","x":36.5,"p":0.00002},{"s":"g16","k":"g","x":44.0,"p":0.00001},{"s":"g16","k":"g","x":56.5,"p":0.000004},
{"s":"g17","k":"g","x":0,"p":0.028},{"s":"g17","k":"g","x":2.4,"p":0.01},{"s":"g17","k":"g","x":4.7,"p":0.003},{"s":"g17","k":"g","x":7.4,"p":0.001},{"s":"g17","k":"g","x":12.3,"p":0.0003},{"s":"g17","k":"g","x":17.2,"p":0.0001},{"s":"g17","k":"g","x":20.5,"p":0.00005},{"s":"g17","k":"g","x":22.5,"p":0.00003},{"s":"g17","k":"g","x":23.5,"p":0.00002},{"s":"g17","k":"g","x":26.0,"p":0.00001},{"s":"g17","k":"g","x":27.0,"p":0.000004},
{"s":"g18","k":"g","x":0,"p":0.030},{"s":"g18","k":"g","x":2.5,"p":0.01},{"s":"g18","k":"g","x":4.9,"p":0.003},{"s":"g18","k":"g","x":7.7,"p":0.001},{"s":"g18","k":"g","x":12.6,"p":0.0003},{"s":"g18","k":"g","x":17.8,"p":0.0001},{"s":"g18","k":"g","x":21.0,"p":0.00005},{"s":"g18","k":"g","x":24.0,"p":0.00003},{"s":"g18","k":"g","x":26.5,"p":0.00002},{"s":"g18","k":"g","x":30.0,"p":0.00001},{"s":"g18","k":"g","x":34.0,"p":0.000004},
{"s":"g19","k":"g","x":0,"p":0.032},{"s":"g19","k":"g","x":2.6,"p":0.01},{"s":"g19","k":"g","x":7.9,"p":0.001},{"s":"g19","k":"g","x":12.1,"p":0.0003},{"s":"g19","k":"g","x":16.2,"p":0.0001},{"s":"g19","k":"g","x":18.5,"p":0.00005},{"s":"g19","k":"g","x":21.0,"p":0.00003},{"s":"g19","k":"g","x":22.0,"p":0.00002},{"s":"g19","k":"g","x":24.5,"p":0.00001},{"s":"g19","k":"g","x":25.5,"p":0.000004},
{"s":"g20","k":"g","x":0,"p":0.030},{"s":"g20","k":"g","x":2.5,"p":0.01},{"s":"g20","k":"g","x":7.7,"p":0.001},{"s":"g20","k":"g","x":12.2,"p":0.0003},{"s":"g20","k":"g","x":16.6,"p":0.0001},{"s":"g20","k":"g","x":20.0,"p":0.00005},{"s":"g20","k":"g","x":21.8,"p":0.00003},{"s":"g20","k":"g","x":24.0,"p":0.00002},{"s":"g20","k":"g","x":26.5,"p":0.00001},{"s":"g20","k":"g","x":29.0,"p":0.000004},
{"s":"g21","k":"g","x":0,"p":0.026},{"s":"g21","k":"g","x":2.7,"p":0.01},{"s":"g21","k":"g","x":8.1,"p":0.001},{"s":"g21","k":"g","x":12.4,"p":0.0003},{"s":"g21","k":"g","x":17.3,"p":0.0001},{"s":"g21","k":"g","x":20.8,"p":0.00005},{"s":"g21","k":"g","x":23.0,"p":0.00003},{"s":"g21","k":"g","x":24.5,"p":0.00002},{"s":"g21","k":"g","x":28.5,"p":0.00001},{"s":"g21","k":"g","x":32.0,"p":0.000004},
{"s":"g22","k":"g","x":0,"p":0.035},{"s":"g22","k":"g","x":2.8,"p":0.01},{"s":"g22","k":"g","x":8.3,"p":0.001},{"s":"g22","k":"g","x":12.5,"p":0.0003},{"s":"g22","k":"g","x":17.8,"p":0.0001},{"s":"g22","k":"g","x":22.0,"p":0.00005},{"s":"g22","k":"g","x":24.0,"p":0.00003},{"s":"g22","k":"g","x":26.5,"p":0.00002},{"s":"g22","k":"g","x":30.5,"p":0.00001},{"s":"g22","k":"g","x":34.5,"p":0.000004},
{"s":"g23","k":"g","x":0,"p":0.032},{"s":"g23","k":"g","x":2.6,"p":0.01},{"s":"g23","k":"g","x":7.9,"p":0.001},{"s":"g23","k":"g","x":12.6,"p":0.0003},{"s":"g23","k":"g","x":18.2,"p":0.0001},{"s":"g23","k":"g","x":21.5,"p":0.00005},{"s":"g23","k":"g","x":25.5,"p":0.00003},{"s":"g23","k":"g","x":28.0,"p":0.00002},{"s":"g23","k":"g","x":32.5,"p":0.00001},{"s":"g23","k":"g","x":36.0,"p":0.000004},
{"s":"g24","k":"g","x":0,"p":0.030},{"s":"g24","k":"g","x":2.5,"p":0.01},{"s":"g24","k":"g","x":7.7,"p":0.001},{"s":"g24","k":"g","x":12.7,"p":0.0003},{"s":"g24","k":"g","x":18.7,"p":0.0001},{"s":"g24","k":"g","x":23.0,"p":0.00005},{"s":"g24","k":"g","x":25.5,"p":0.00003},{"s":"g24","k":"g","x":28.5,"p":0.00002},{"s":"g24","k":"g","x":34.0,"p":0.00001},{"s":"g24","k":"g","x":39.0,"p":0.000004},
{"s":"g25","k":"g","x":0,"p":0.026},{"s":"g25","k":"g","x":2.7,"p":0.01},{"s":"g25","k":"g","x":8.1,"p":0.001},{"s":"g25","k":"g","x":12.9,"p":0.0003},{"s":"g25","k":"g","x":19.2,"p":0.0001},{"s":"g25","k":"g","x":24.0,"p":0.00005},{"s":"g25","k":"g","x":27.0,"p":0.00003},{"s":"g25","k":"g","x":30.5,"p":0.00002},{"s":"g25","k":"g","x":35.5,"p":0.00001},{"s":"g25","k":"g","x":41.0,"p":0.000004},
{"s":"g26","k":"g","x":0,"p":0.035},{"s":"g26","k":"g","x":2.8,"p":0.01},{"s":"g26","k":"g","x":8.3,"p":0.001},{"s":"g26","k":"g","x":13.0,"p":0.0003},{"s":"g26","k":"g","x":19.8,"p":0.0001},{"s":"g26","k":"g","x":24.0,"p":0.00005},{"s":"g26","k":"g","x":28.5,"p":0.00003},{"s":"g26","k":"g","x":32.0,"p":0.00002},{"s":"g26","k":"g","x":37.0,"p":0.00001},{"s":"g26","k":"g","x":43.0,"p":0.000004},
{"s":"g27","k":"g","x":0,"p":0.032},{"s":"g27","k":"g","x":2.6,"p":0.01},{"s":"g27","k":"g","x":7.9,"p":0.001},{"s":"g27","k":"g","x":13.2,"p":0.0003},{"s":"g27","k":"g","x":20.2,"p":0.0001},{"s":"g27","k":"g","x":25.5,"p":0.00005},{"s":"g27","k":"g","x":29.5,"p":0.00003},{"s":"g27","k":"g","x":33.0,"p":0.00002},{"s":"g27","k":"g","x":39.0,"p":0.00001},{"s":"g27","k":"g","x":46.0,"p":0.000004},
{"s":"g28","k":"g","x":0,"p":0.028},{"s":"g28","k":"g","x":2.4,"p":0.01},{"s":"g28","k":"g","x":7.4,"p":0.001},{"s":"g28","k":"g","x":11.7,"p":0.0003},{"s":"g28","k":"g","x":15.8,"p":0.0001},{"s":"g28","k":"g","x":18.0,"p":0.00005},{"s":"g28","k":"g","x":20.0,"p":0.00003},{"s":"g28","k":"g","x":21.5,"p":0.00002},{"s":"g28","k":"g","x":23.5,"p":0.00001},{"s":"g28","k":"g","x":25.0,"p":0.000004},
{"s":"g29","k":"g","x":0,"p":0.035},{"s":"g29","k":"g","x":2.8,"p":0.01},{"s":"g29","k":"g","x":8.3,"p":0.001},{"s":"g29","k":"g","x":13.3,"p":0.0003},{"s":"g29","k":"g","x":20.8,"p":0.0001},{"s":"g29","k":"g","x":26.0,"p":0.00005},{"s":"g29","k":"g","x":30.5,"p":0.00003},{"s":"g29","k":"g","x":35.0,"p":0.00002},{"s":"g29","k":"g","x":41.5,"p":0.00001},{"s":"g29","k":"g","x":48.0,"p":0.000004},
{"s":"g30","k":"g","x":0,"p":0.026},{"s":"g30","k":"g","x":2.7,"p":0.01},{"s":"g30","k":"g","x":8.1,"p":0.001},{"s":"g30","k":"g","x":12.8,"p":0.0003},{"s":"g30","k":"g","x":18.0,"p":0.0001},{"s":"g30","k":"g","x":23.5,"p":0.00005},{"s":"g30","k":"g","x":26.0,"p":0.00003},{"s":"g30","k":"g","x":29.0,"p":0.00002},{"s":"g30","k":"g","x":33.0,"p":0.00001},{"s":"g30","k":"g","x":37.5,"p":0.000004},
{"s":"k","k":"k","x":0,"p":0.03},{"s":"k","k":"k","x":2.6,"p":0.01},{"s":"k","k":"k","x":5,"p":0.003},{"s":"k","k":"k","x":7.9,"p":0.001},{"s":"k","k":"k","x":10,"p":0.0005},{"s":"k","k":"k","x":13.5,"p":0.00018},{"s":"k","k":"k","x":17.7,"p":0.000085},{"s":"k","k":"k","x":19,"p":0.000065},{"s":"k","k":"k","x":20.2,"p":0.000061},{"s":"k","k":"k","x":21.3,"p":0.000045},{"s":"k","k":"k","x":23.7,"p":0.000028},{"s":"k","k":"k","x":25.5,"p":0.000018},{"s":"k","k":"k","x":26.7,"p":0.000011},{"s":"k","k":"k","x":29,"p":0.000007},{"s":"k","k":"k","x":31.5,"p":0.000004},
{"s":"rU","k":"r","x":0,"p":0.04},{"s":"rU","k":"r","x":2.6,"p":0.011},{"s":"rU","k":"r","x":5,"p":0.0034},{"s":"rU","k":"r","x":7.9,"p":0.0012},{"s":"rU","k":"r","x":10,"p":0.00065},{"s":"rU","k":"r","x":15.3,"p":0.0002},{"s":"rU","k":"r","x":21.3,"p":0.000085},{"s":"rU","k":"r","x":27.3,"p":0.000043},{"s":"rU","k":"r","x":33.3,"p":0.000022},{"s":"rU","k":"r","x":39.3,"p":0.000011},{"s":"rU","k":"r","x":45.3,"p":0.0000074},{"s":"rU","k":"r","x":51.4,"p":0.0000052},{"s":"rU","k":"r","x":59.5,"p":0.000004},
{"s":"rM","k":"r","x":0,"p":0.038},{"s":"rM","k":"r","x":2.6,"p":0.0105},{"s":"rM","k":"r","x":5,"p":0.0032},{"s":"rM","k":"r","x":7.9,"p":0.0011},{"s":"rM","k":"r","x":10,"p":0.00055},{"s":"rM","k":"r","x":15.3,"p":0.00014},{"s":"rM","k":"r","x":24.3,"p":0.000031},{"s":"rM","k":"r","x":33.3,"p":0.0000095},{"s":"rM","k":"r","x":40.5,"p":0.000004},
{"s":"rL","k":"r","x":0,"p":0.036},{"s":"rL","k":"r","x":2.6,"p":0.01},{"s":"rL","k":"r","x":5,"p":0.003},{"s":"rL","k":"r","x":7.9,"p":0.001},{"s":"rL","k":"r","x":10,"p":0.00048},{"s":"rL","k":"r","x":15,"p":0.00011},{"s":"rL","k":"r","x":20,"p":0.000035},{"s":"rL","k":"r","x":25,"p":0.0000126},{"s":"rL","k":"r","x":30,"p":0.0000056},{"s":"rL","k":"r","x":31.5,"p":0.000004},
{"s":"bU","k":"b","x":0,"p":0.036},{"s":"bU","k":"b","x":2.6,"p":0.0105},{"s":"bU","k":"b","x":5,"p":0.0033},{"s":"bU","k":"b","x":7.9,"p":0.00115},{"s":"bU","k":"b","x":10,"p":0.00063},{"s":"bU","k":"b","x":15.3,"p":0.00021},{"s":"bU","k":"b","x":21.3,"p":0.0001},{"s":"bU","k":"b","x":27.3,"p":0.000051},{"s":"bU","k":"b","x":33.3,"p":0.000031},{"s":"bU","k":"b","x":39.3,"p":0.000017},{"s":"bU","k":"b","x":45.3,"p":0.0000095},{"s":"bU","k":"b","x":51.4,"p":0.0000062},{"s":"bU","k":"b","x":59.8,"p":0.000004},
{"s":"bM","k":"b","x":0,"p":0.034},{"s":"bM","k":"b","x":2.6,"p":0.01},{"s":"bM","k":"b","x":5,"p":0.0031},{"s":"bM","k":"b","x":7.9,"p":0.00105},{"s":"bM","k":"b","x":10,"p":0.00053},{"s":"bM","k":"b","x":15.3,"p":0.00013},{"s":"bM","k":"b","x":24.3,"p":0.000028},{"s":"bM","k":"b","x":32,"p":0.000009},{"s":"bM","k":"b","x":38.5,"p":0.000004},
{"s":"bL","k":"b","x":0,"p":0.033},{"s":"bL","k":"b","x":2.6,"p":0.0098},{"s":"bL","k":"b","x":5,"p":0.0029},{"s":"bL","k":"b","x":7.9,"p":0.00096},{"s":"bL","k":"b","x":10,"p":0.00046},{"s":"bL","k":"b","x":15,"p":0.000105},{"s":"bL","k":"b","x":20,"p":0.000032},{"s":"bL","k":"b","x":25,"p":0.000011},{"s":"bL","k":"b","x":29.5,"p":0.000004}
],
"d": [
{"s":"g1","k":"g","x":0,"p":0.028},{"s":"g1","k":"g","x":2.4,"p":0.01},{"s":"g1","k":"g","x":4.7,"p":0.003},{"s":"g1","k":"g","x":7.4,"p":0.001},{"s":"g1","k":"g","x":12.0,"p":0.0003},{"s":"g1","k":"g","x":16.0,"p":0.0001},{"s":"g1","k":"g","x":19.5,"p":0.00005},{"s":"g1","k":"g","x":21.5,"p":0.00003},{"s":"g1","k":"g","x":22.5,"p":0.00002},{"s":"g1","k":"g","x":25.5,"p":0.00001},{"s":"g1","k":"g","x":27.5,"p":0.000004},
{"s":"g2","k":"g","x":0,"p":0.028},{"s":"g2","k":"g","x":2.4,"p":0.01},{"s":"g2","k":"g","x":4.7,"p":0.003},{"s":"g2","k":"g","x":7.4,"p":0.001},{"s":"g2","k":"g","x":12.3,"p":0.0003},{"s":"g2","k":"g","x":16.5,"p":0.0001},{"s":"g2","k":"g","x":19.5,"p":0.00005},{"s":"g2","k":"g","x":22.5,"p":0.00003},{"s":"g2","k":"g","x":25.0,"p":0.00002},{"s":"g2","k":"g","x":27.5,"p":0.00001},{"s":"g2","k":"g","x":29.5,"p":0.000004},
{"s":"g3","k":"g","x":0,"p":0.030},{"s":"g3","k":"g","x":2.5,"p":0.01},{"s":"g3","k":"g","x":4.9,"p":0.003},{"s":"g3","k":"g","x":7.7,"p":0.001},{"s":"g3","k":"g","x":12.5,"p":0.0003},{"s":"g3","k":"g","x":17.0,"p":0.0001},{"s":"g3","k":"g","x":21.5,"p":0.00005},{"s":"g3","k":"g","x":23.5,"p":0.00003},{"s":"g3","k":"g","x":25.0,"p":0.00002},{"s":"g3","k":"g","x":29.0,"p":0.00001},{"s":"g3","k":"g","x":31.5,"p":0.000004},
{"s":"g4","k":"g","x":0,"p":0.030},{"s":"g4","k":"g","x":2.5,"p":0.01},{"s":"g4","k":"g","x":4.9,"p":0.003},{"s":"g4","k":"g","x":7.7,"p":0.001},{"s":"g4","k":"g","x":12.8,"p":0.0003},{"s":"g4","k":"g","x":17.5,"p":0.0001},{"s":"g4","k":"g","x":21.0,"p":0.00005},{"s":"g4","k":"g","x":24.5,"p":0.00003},{"s":"g4","k":"g","x":27.5,"p":0.00002},{"s":"g4","k":"g","x":30.5,"p":0.00001},{"s":"g4","k":"g","x":33.5,"p":0.000004},
{"s":"g5","k":"g","x":0,"p":0.032},{"s":"g5","k":"g","x":2.6,"p":0.01},{"s":"g5","k":"g","x":5.0,"p":0.003},{"s":"g5","k":"g","x":7.9,"p":0.001},{"s":"g5","k":"g","x":13.0,"p":0.0003},{"s":"g5","k":"g","x":18.0,"p":0.0001},{"s":"g5","k":"g","x":23.0,"p":0.00005},{"s":"g5","k":"g","x":25.5,"p":0.00003},{"s":"g5","k":"g","x":27.5,"p":0.00002},{"s":"g5","k":"g","x":32.5,"p":0.00001},{"s":"g5","k":"g","x":35.5,"p":0.000004},
{"s":"g6","k":"g","x":0,"p":0.026},{"s":"g6","k":"g","x":2.7,"p":0.01},{"s":"g6","k":"g","x":5.2,"p":0.003},{"s":"g6","k":"g","x":8.1,"p":0.001},{"s":"g6","k":"g","x":13.1,"p":0.0003},{"s":"g6","k":"g","x":18.3,"p":0.0001},{"s":"g6","k":"g","x":22.5,"p":0.00005},{"s":"g6","k":"g","x":26.5,"p":0.00003},{"s":"g6","k":"g","x":30.0,"p":0.00002},{"s":"g6","k":"g","x":34.0,"p":0.00001},{"s":"g6","k":"g","x":37.5,"p":0.000004},
{"s":"g7","k":"g","x":0,"p":0.032},{"s":"g7","k":"g","x":2.6,"p":0.01},{"s":"g7","k":"g","x":5.0,"p":0.003},{"s":"g7","k":"g","x":7.9,"p":0.001},{"s":"g7","k":"g","x":13.2,"p":0.0003},{"s":"g7","k":"g","x":18.6,"p":0.0001},{"s":"g7","k":"g","x":24.0,"p":0.00005},{"s":"g7","k":"g","x":27.0,"p":0.00003},{"s":"g7","k":"g","x":29.5,"p":0.00002},{"s":"g7","k":"g","x":35.5,"p":0.00001},{"s":"g7","k":"g","x":39.5,"p":0.000004},
{"s":"g8","k":"g","x":0,"p":0.030},{"s":"g8","k":"g","x":2.5,"p":0.01},{"s":"g8","k":"g","x":4.9,"p":0.003},{"s":"g8","k":"g","x":7.7,"p":0.001},{"s":"g8","k":"g","x":13.3,"p":0.0003},{"s":"g8","k":"g","x":19.0,"p":0.0001},{"s":"g8","k":"g","x":23.5,"p":0.00005},{"s":"g8","k":"g","x":28.0,"p":0.00003},{"s":"g8","k":"g","x":32.0,"p":0.00002},{"s":"g8","k":"g","x":37.0,"p":0.00001},{"s":"g8","k":"g","x":41.5,"p":0.000004},
{"s":"g9","k":"g","x":0,"p":0.032},{"s":"g9","k":"g","x":2.6,"p":0.01},{"s":"g9","k":"g","x":5.0,"p":0.003},{"s":"g9","k":"g","x":7.9,"p":0.001},{"s":"g9","k":"g","x":13.4,"p":0.0003},{"s":"g9","k":"g","x":19.3,"p":0.0001},{"s":"g9","k":"g","x":25.5,"p":0.00005},{"s":"g9","k":"g","x":28.5,"p":0.00003},{"s":"g9","k":"g","x":31.5,"p":0.00002},{"s":"g9","k":"g","x":38.5,"p":0.00001},{"s":"g9","k":"g","x":43.5,"p":0.000004},
{"s":"g10","k":"g","x":0,"p":0.026},{"s":"g10","k":"g","x":2.7,"p":0.01},{"s":"g10","k":"g","x":5.2,"p":0.003},{"s":"g10","k":"g","x":8.1,"p":0.001},{"s":"g10","k":"g","x":13.5,"p":0.0003},{"s":"g10","k":"g","x":19.6,"p":0.0001},{"s":"g10","k":"g","x":25.0,"p":0.00005},{"s":"g10","k":"g","x":29.5,"p":0.00003},{"s":"g10","k":"g","x":34.0,"p":0.00002},{"s":"g10","k":"g","x":40.0,"p":0.00001},{"s":"g10","k":"g","x":45.5,"p":0.000004},
{"s":"g11","k":"g","x":0,"p":0.035},{"s":"g11","k":"g","x":2.8,"p":0.01},{"s":"g11","k":"g","x":5.3,"p":0.003},{"s":"g11","k":"g","x":8.3,"p":0.001},{"s":"g11","k":"g","x":13.6,"p":0.0003},{"s":"g11","k":"g","x":20.0,"p":0.0001},{"s":"g11","k":"g","x":26.5,"p":0.00005},{"s":"g11","k":"g","x":30.0,"p":0.00003},{"s":"g11","k":"g","x":33.5,"p":0.00002},{"s":"g11","k":"g","x":41.5,"p":0.00001},{"s":"g11","k":"g","x":48.0,"p":0.000004},
{"s":"g12","k":"g","x":0,"p":0.032},{"s":"g12","k":"g","x":2.6,"p":0.01},{"s":"g12","k":"g","x":5.0,"p":0.003},{"s":"g12","k":"g","x":7.9,"p":0.001},{"s":"g12","k":"g","x":13.8,"p":0.0003},{"s":"g12","k":"g","x":20.3,"p":0.0001},{"s":"g12","k":"g","x":26.0,"p":0.00005},{"s":"g12","k":"g","x":31.0,"p":0.00003},{"s":"g12","k":"g","x":36.5,"p":0.00002},{"s":"g12","k":"g","x":43.5,"p":0.00001},{"s":"g12","k":"g","x":51.0,"p":0.000004},
{"s":"g13","k":"g","x":0,"p":0.035},{"s":"g13","k":"g","x":2.8,"p":0.01},{"s":"g13","k":"g","x":5.3,"p":0.003},{"s":"g13","k":"g","x":8.3,"p":0.001},{"s":"g13","k":"g","x":14.0,"p":0.0003},{"s":"g13","k":"g","x":20.8,"p":0.0001},{"s":"g13","k":"g","x":28.0,"p":0.00005},{"s":"g13","k":"g","x":32.0,"p":0.00003},{"s":"g13","k":"g","x":36.5,"p":0.00002},{"s":"g13","k":"g","x":45.5,"p":0.00001},{"s":"g13","k":"g","x":54.0,"p":0.000004},
{"s":"g14","k":"g","x":0,"p":0.026},{"s":"g14","k":"g","x":2.7,"p":0.01},{"s":"g14","k":"g","x":5.2,"p":0.003},{"s":"g14","k":"g","x":8.1,"p":0.001},{"s":"g14","k":"g","x":14.2,"p":0.0003},{"s":"g14","k":"g","x":21.3,"p":0.0001},{"s":"g14","k":"g","x":27.5,"p":0.00005},{"s":"g14","k":"g","x":33.0,"p":0.00003},{"s":"g14","k":"g","x":39.5,"p":0.00002},{"s":"g14","k":"g","x":48.0,"p":0.00001},{"s":"g14","k":"g","x":57.0,"p":0.000004},
{"s":"g15","k":"g","x":0,"p":0.035},{"s":"g15","k":"g","x":2.8,"p":0.01},{"s":"g15","k":"g","x":5.3,"p":0.003},{"s":"g15","k":"g","x":8.3,"p":0.001},{"s":"g15","k":"g","x":14.4,"p":0.0003},{"s":"g15","k":"g","x":21.8,"p":0.0001},{"s":"g15","k":"g","x":29.5,"p":0.00005},{"s":"g15","k":"g","x":34.5,"p":0.00003},{"s":"g15","k":"g","x":40.0,"p":0.00002},{"s":"g15","k":"g","x":51.0,"p":0.00001},{"s":"g15","k":"g","x":63.9,"p":0.000004},
{"s":"g16","k":"g","x":0,"p":0.035},{"s":"g16","k":"g","x":2.8,"p":0.01},{"s":"g16","k":"g","x":5.3,"p":0.003},{"s":"g16","k":"g","x":8.3,"p":0.001},{"s":"g16","k":"g","x":14.0,"p":0.0003},{"s":"g16","k":"g","x":21.0,"p":0.0001},{"s":"g16","k":"g","x":27.0,"p":0.00005},{"s":"g16","k":"g","x":32.5,"p":0.00003},{"s":"g16","k":"g","x":40.5,"p":0.00002},{"s":"g16","k":"g","x":52.0,"p":0.00001},{"s":"g16","k":"g","x":58.0,"p":0.0000074},{"s":"g16","k":"g","x":58.1,"p":0.000004},
{"s":"g17","k":"g","x":0,"p":0.028},{"s":"g17","k":"g","x":2.4,"p":0.01},{"s":"g17","k":"g","x":4.7,"p":0.003},{"s":"g17","k":"g","x":7.4,"p":0.001},{"s":"g17","k":"g","x":12.7,"p":0.0003},{"s":"g17","k":"g","x":17.2,"p":0.0001},{"s":"g17","k":"g","x":21.0,"p":0.00005},{"s":"g17","k":"g","x":23.0,"p":0.00003},{"s":"g17","k":"g","x":24.0,"p":0.00002},{"s":"g17","k":"g","x":27.0,"p":0.00001},{"s":"g17","k":"g","x":28.5,"p":0.000004},
{"s":"g18","k":"g","x":0,"p":0.030},{"s":"g18","k":"g","x":2.5,"p":0.01},{"s":"g18","k":"g","x":4.9,"p":0.003},{"s":"g18","k":"g","x":7.7,"p":0.001},{"s":"g18","k":"g","x":13.2,"p":0.0003},{"s":"g18","k":"g","x":19.0,"p":0.0001},{"s":"g18","k":"g","x":24.5,"p":0.00005},{"s":"g18","k":"g","x":27.5,"p":0.00003},{"s":"g18","k":"g","x":30.0,"p":0.00002},{"s":"g18","k":"g","x":35.0,"p":0.00001},{"s":"g18","k":"g","x":38.0,"p":0.000004},
{"s":"g19","k":"g","x":0,"p":0.032},{"s":"g19","k":"g","x":2.6,"p":0.01},{"s":"g19","k":"g","x":7.9,"p":0.001},{"s":"g19","k":"g","x":12.6,"p":0.0003},{"s":"g19","k":"g","x":16.8,"p":0.0001},{"s":"g19","k":"g","x":20.0,"p":0.00005},{"s":"g19","k":"g","x":22.5,"p":0.00003},{"s":"g19","k":"g","x":24.0,"p":0.00002},{"s":"g19","k":"g","x":26.5,"p":0.00001},{"s":"g19","k":"g","x":28.5,"p":0.000004},
{"s":"g20","k":"g","x":0,"p":0.030},{"s":"g20","k":"g","x":2.5,"p":0.01},{"s":"g20","k":"g","x":7.7,"p":0.001},{"s":"g20","k":"g","x":12.9,"p":0.0003},{"s":"g20","k":"g","x":17.7,"p":0.0001},{"s":"g20","k":"g","x":21.5,"p":0.00005},{"s":"g20","k":"g","x":24.0,"p":0.00003},{"s":"g20","k":"g","x":26.0,"p":0.00002},{"s":"g20","k":"g","x":30.0,"p":0.00001},{"s":"g20","k":"g","x":32.5,"p":0.000004},
{"s":"g21","k":"g","x":0,"p":0.026},{"s":"g21","k":"g","x":2.7,"p":0.01},{"s":"g21","k":"g","x":8.1,"p":0.001},{"s":"g21","k":"g","x":13.0,"p":0.0003},{"s":"g21","k":"g","x":18.2,"p":0.0001},{"s":"g21","k":"g","x":22.0,"p":0.00005},{"s":"g21","k":"g","x":25.0,"p":0.00003},{"s":"g21","k":"g","x":28.5,"p":0.00002},{"s":"g21","k":"g","x":31.5,"p":0.00001},{"s":"g21","k":"g","x":34.5,"p":0.000004},
{"s":"g22","k":"g","x":0,"p":0.035},{"s":"g22","k":"g","x":2.8,"p":0.01},{"s":"g22","k":"g","x":8.3,"p":0.001},{"s":"g22","k":"g","x":13.2,"p":0.0003},{"s":"g22","k":"g","x":18.8,"p":0.0001},{"s":"g22","k":"g","x":23.5,"p":0.00005},{"s":"g22","k":"g","x":26.5,"p":0.00003},{"s":"g22","k":"g","x":29.0,"p":0.00002},{"s":"g22","k":"g","x":33.5,"p":0.00001},{"s":"g22","k":"g","x":37.0,"p":0.000004},
{"s":"g23","k":"g","x":0,"p":0.032},{"s":"g23","k":"g","x":2.6,"p":0.01},{"s":"g23","k":"g","x":7.9,"p":0.001},{"s":"g23","k":"g","x":13.3,"p":0.0003},{"s":"g23","k":"g","x":19.2,"p":0.0001},{"s":"g23","k":"g","x":24.0,"p":0.00005},{"s":"g23","k":"g","x":27.5,"p":0.00003},{"s":"g23","k":"g","x":31.0,"p":0.00002},{"s":"g23","k":"g","x":36.0,"p":0.00001},{"s":"g23","k":"g","x":40.5,"p":0.000004},
{"s":"g24","k":"g","x":0,"p":0.030},{"s":"g24","k":"g","x":2.5,"p":0.01},{"s":"g24","k":"g","x":7.7,"p":0.001},{"s":"g24","k":"g","x":13.5,"p":0.0003},{"s":"g24","k":"g","x":19.5,"p":0.0001},{"s":"g24","k":"g","x":24.5,"p":0.00005},{"s":"g24","k":"g","x":28.5,"p":0.00003},{"s":"g24","k":"g","x":33.0,"p":0.00002},{"s":"g24","k":"g","x":39.0,"p":0.00001},{"s":"g24","k":"g","x":44.0,"p":0.000004},
{"s":"g25","k":"g","x":0,"p":0.026},{"s":"g25","k":"g","x":2.7,"p":0.01},{"s":"g25","k":"g","x":8.1,"p":0.001},{"s":"g25","k":"g","x":13.6,"p":0.0003},{"s":"g25","k":"g","x":19.9,"p":0.0001},{"s":"g25","k":"g","x":26.0,"p":0.00005},{"s":"g25","k":"g","x":29.5,"p":0.00003},{"s":"g25","k":"g","x":34.5,"p":0.00002},{"s":"g25","k":"g","x":42.0,"p":0.00001},{"s":"g25","k":"g","x":47.0,"p":0.000004},
{"s":"g26","k":"g","x":0,"p":0.035},{"s":"g26","k":"g","x":2.8,"p":0.01},{"s":"g26","k":"g","x":8.3,"p":0.001},{"s":"g26","k":"g","x":13.8,"p":0.0003},{"s":"g26","k":"g","x":20.5,"p":0.0001},{"s":"g26","k":"g","x":26.5,"p":0.00005},{"s":"g26","k":"g","x":31.5,"p":0.00003},{"s":"g26","k":"g","x":36.0,"p":0.00002},{"s":"g26","k":"g","x":44.0,"p":0.00001},{"s":"g26","k":"g","x":50.0,"p":0.000004},
{"s":"g27","k":"g","x":0,"p":0.032},{"s":"g27","k":"g","x":2.6,"p":0.01},{"s":"g27","k":"g","x":7.9,"p":0.001},{"s":"g27","k":"g","x":14.1,"p":0.0003},{"s":"g27","k":"g","x":21.0,"p":0.0001},{"s":"g27","k":"g","x":27.5,"p":0.00005},{"s":"g27","k":"g","x":32.5,"p":0.00003},{"s":"g27","k":"g","x":38.0,"p":0.00002},{"s":"g27","k":"g","x":46.5,"p":0.00001},{"s":"g27","k":"g","x":53.0,"p":0.000004},
{"s":"g28","k":"g","x":0,"p":0.028},{"s":"g28","k":"g","x":2.4,"p":0.01},{"s":"g28","k":"g","x":7.4,"p":0.001},{"s":"g28","k":"g","x":12.2,"p":0.0003},{"s":"g28","k":"g","x":16.3,"p":0.0001},{"s":"g28","k":"g","x":19.0,"p":0.00005},{"s":"g28","k":"g","x":21.0,"p":0.00003},{"s":"g28","k":"g","x":23.0,"p":0.00002},{"s":"g28","k":"g","x":26.0,"p":0.00001},{"s":"g28","k":"g","x":27.0,"p":0.000004},
{"s":"g29","k":"g","x":0,"p":0.035},{"s":"g29","k":"g","x":2.8,"p":0.01},{"s":"g29","k":"g","x":8.3,"p":0.001},{"s":"g29","k":"g","x":14.3,"p":0.0003},{"s":"g29","k":"g","x":21.5,"p":0.0001},{"s":"g29","k":"g","x":28.5,"p":0.00005},{"s":"g29","k":"g","x":34.0,"p":0.00003},{"s":"g29","k":"g","x":41.0,"p":0.00002},{"s":"g29","k":"g","x":50.0,"p":0.00001},{"s":"g29","k":"g","x":57.5,"p":0.000004},
{"s":"g30","k":"g","x":0,"p":0.026},{"s":"g30","k":"g","x":2.7,"p":0.01},{"s":"g30","k":"g","x":8.1,"p":0.001},{"s":"g30","k":"g","x":13.4,"p":0.0003},{"s":"g30","k":"g","x":19.6,"p":0.0001},{"s":"g30","k":"g","x":25.0,"p":0.00005},{"s":"g30","k":"g","x":29.0,"p":0.00003},{"s":"g30","k":"g","x":33.0,"p":0.00002},{"s":"g30","k":"g","x":38.0,"p":0.00001},{"s":"g30","k":"g","x":42.0,"p":0.000004},
{"s":"k","k":"k","x":0,"p":0.028},{"s":"k","k":"k","x":2.6,"p":0.01},{"s":"k","k":"k","x":5,"p":0.003},{"s":"k","k":"k","x":8,"p":0.001},{"s":"k","k":"k","x":10,"p":0.00058},{"s":"k","k":"k","x":13.3,"p":0.0003},{"s":"k","k":"k","x":17.7,"p":0.000089},{"s":"k","k":"k","x":20.1,"p":0.000059},{"s":"k","k":"k","x":24.3,"p":0.000046},{"s":"k","k":"k","x":25.2,"p":0.000032},{"s":"k","k":"k","x":28.5,"p":0.000025},{"s":"k","k":"k","x":32.7,"p":0.000018},{"s":"k","k":"k","x":33.6,"p":0.000013},{"s":"k","k":"k","x":37.6,"p":0.0000107},{"s":"k","k":"k","x":43,"p":0.0000083},{"s":"k","k":"k","x":47.3,"p":0.0000058},{"s":"k","k":"k","x":53.3,"p":0.0000039},
{"s":"rU","k":"r","x":0,"p":0.04},{"s":"rU","k":"r","x":2.6,"p":0.011},{"s":"rU","k":"r","x":5,"p":0.0035},{"s":"rU","k":"r","x":8,"p":0.0013},{"s":"rU","k":"r","x":10,"p":0.00075},{"s":"rU","k":"r","x":14.8,"p":0.0003},{"s":"rU","k":"r","x":19.7,"p":0.00013},{"s":"rU","k":"r","x":25.7,"p":0.00005},{"s":"rU","k":"r","x":31.7,"p":0.000022},{"s":"rU","k":"r","x":37.7,"p":0.000011},{"s":"rU","k":"r","x":43.7,"p":0.0000068},{"s":"rU","k":"r","x":49.7,"p":0.0000048},{"s":"rU","k":"r","x":56.3,"p":0.0000042},{"s":"rU","k":"r","x":58.6,"p":0.000004},
{"s":"rM","k":"r","x":0,"p":0.038},{"s":"rM","k":"r","x":2.6,"p":0.0105},{"s":"rM","k":"r","x":5,"p":0.0032},{"s":"rM","k":"r","x":8,"p":0.0011},{"s":"rM","k":"r","x":10,"p":0.00062},{"s":"rM","k":"r","x":15,"p":0.00023},{"s":"rM","k":"r","x":20,"p":0.000085},{"s":"rM","k":"r","x":25,"p":0.000038},{"s":"rM","k":"r","x":30,"p":0.000018},{"s":"rM","k":"r","x":35,"p":0.000009},{"s":"rM","k":"r","x":40.1,"p":0.000004},
{"s":"rL","k":"r","x":0,"p":0.036},{"s":"rL","k":"r","x":2.6,"p":0.01},{"s":"rL","k":"r","x":5,"p":0.003},{"s":"rL","k":"r","x":8,"p":0.001},{"s":"rL","k":"r","x":10,"p":0.00055},{"s":"rL","k":"r","x":15,"p":0.00016},{"s":"rL","k":"r","x":20,"p":0.000055},{"s":"rL","k":"r","x":25,"p":0.00002},{"s":"rL","k":"r","x":29,"p":0.000008},{"s":"rL","k":"r","x":31.1,"p":0.000004},
{"s":"bU","k":"b","x":0,"p":0.036},{"s":"bU","k":"b","x":2.6,"p":0.0105},{"s":"bU","k":"b","x":5,"p":0.0033},{"s":"bU","k":"b","x":8,"p":0.0012},{"s":"bU","k":"b","x":10,"p":0.00068},{"s":"bU","k":"b","x":15,"p":0.00027},{"s":"bU","k":"b","x":20,"p":0.00011},{"s":"bU","k":"b","x":25,"p":0.000045},{"s":"bU","k":"b","x":30,"p":0.000022},{"s":"bU","k":"b","x":35,"p":0.000011},{"s":"bU","k":"b","x":40,"p":0.0000065},{"s":"bU","k":"b","x":44,"p":0.000004},
{"s":"bM","k":"b","x":0,"p":0.034},{"s":"bM","k":"b","x":2.6,"p":0.01},{"s":"bM","k":"b","x":5,"p":0.0031},{"s":"bM","k":"b","x":8,"p":0.00105},{"s":"bM","k":"b","x":10,"p":0.00058},{"s":"bM","k":"b","x":15,"p":0.00021},{"s":"bM","k":"b","x":20,"p":0.000075},{"s":"bM","k":"b","x":25,"p":0.00003},{"s":"bM","k":"b","x":30,"p":0.000013},{"s":"bM","k":"b","x":35.3,"p":0.000006},{"s":"bM","k":"b","x":37,"p":0.000004},
{"s":"bL","k":"b","x":0,"p":0.033},{"s":"bL","k":"b","x":2.6,"p":0.0098},{"s":"bL","k":"b","x":5,"p":0.0029},{"s":"bL","k":"b","x":8,"p":0.00095},{"s":"bL","k":"b","x":10,"p":0.00052},{"s":"bL","k":"b","x":15,"p":0.00015},{"s":"bL","k":"b","x":20,"p":0.000048},{"s":"bL","k":"b","x":25,"p":0.000016},{"s":"bL","k":"b","x":28,"p":0.0000068},{"s":"bL","k":"b","x":29.5,"p":0.000004}
]
},
"concat": [
{
"title": "(a) Control Scenario 1962–1992",
"width": 388, "height": 226,
"data": {"name": "a"},
"encoding": {
"x": {"field": "x", "type": "quantitative", "scale": {"domain": [0, 70], "nice": false}, "axis": {"values": [10,20,30,40,50,60,70], "title": "Rain Depth\u00a0 [mm]"}},
"y": {"field": "p", "type": "quantitative", "scale": {"type": "log", "domain": [0.000001, 0.1], "nice": false}, "axis": {"values": [0.000001, 0.0001, 0.01], "title": "P(R>r)", "labelExpr": "datum.value > 0.001 ? '10⁻²' : datum.value > 0.00001 ? '10⁻⁴' : '10⁻⁶'"}}
},
"layer": [
{"transform": [{"filter": "datum.k == 'r'"}], "mark": {"type": "line", "color": "#ec2d24", "strokeWidth": 1.6, "strokeDash": [8, 5]}, "encoding": {"detail": {"field": "s"}}},
{"transform": [{"filter": "datum.k == 'm' && datum.x <= 13"}], "mark": {"type": "point", "shape": "diamond", "size": 270, "filled": true, "color": "#000", "opacity": 1}},
{"transform": [{"filter": "datum.k == 'm' && datum.x > 13"}], "mark": {"type": "point", "shape": "diamond", "size": 175, "filled": false, "color": "#000", "strokeWidth": 1.2, "opacity": 1}}
]
},
{
"title": "(b) Validation Period 2000–2009",
"width": 388, "height": 226,
"data": {"name": "b"},
"encoding": {
"x": {"field": "x", "type": "quantitative", "scale": {"domain": [0, 70], "nice": false}, "axis": {"values": [10,20,30,40,50,60,70], "title": "Rain Depth\u00a0 [mm]"}},
"y": {"field": "p", "type": "quantitative", "scale": {"type": "log", "domain": [0.000001, 0.1], "nice": false}, "axis": {"values": [0.000001, 0.0001, 0.01], "title": "P(R>r)", "labelExpr": "datum.value > 0.001 ? '10⁻²' : datum.value > 0.00001 ? '10⁻⁴' : '10⁻⁶'"}}
},
"layer": [
{"transform": [{"filter": "datum.k == 'g'"}], "mark": {"type": "line", "color": "#62c64f", "strokeWidth": 1.1}, "encoding": {"detail": {"field": "s"}}},
{"transform": [{"filter": "datum.k == 'r'"}], "mark": {"type": "line", "color": "#ec2d24", "strokeWidth": 1.6, "strokeDash": [8, 5]}, "encoding": {"detail": {"field": "s"}}},
{"transform": [{"filter": "datum.k == 'b'"}], "mark": {"type": "line", "color": "#3848c0", "strokeWidth": 1.1, "strokeDash": [7, 3, 1.5, 3]}, "encoding": {"detail": {"field": "s"}}},
{"transform": [{"filter": "datum.k == 'k'"}], "mark": {"type": "line", "color": "#555560", "strokeWidth": 1.5}, "encoding": {"detail": {"field": "s"}}},
{"transform": [{"filter": "datum.k == 'm' && datum.x <= 13"}], "mark": {"type": "point", "shape": "triangle-up", "size": 270, "filled": true, "color": "#000", "opacity": 1}},
{"transform": [{"filter": "datum.k == 'm' && datum.x > 13"}], "mark": {"type": "point", "shape": "triangle-up", "size": 170, "filled": false, "color": "#000", "strokeWidth": 1.2, "opacity": 1}}
]
},
{
"title": "(c) Future Climate 2046–2065",
"width": 388, "height": 226,
"data": {"name": "c"},
"encoding": {
"x": {"field": "x", "type": "quantitative", "scale": {"domain": [0, 70], "nice": false}, "axis": {"values": [10,20,30,40,50,60,70], "title": "Rain Depth [mm]"}},
"y": {"field": "p", "type": "quantitative", "scale": {"type": "log", "domain": [0.000001, 0.1], "nice": false}, "axis": {"values": [0.000001, 0.0001, 0.01], "title": "P(R>r)", "labelExpr": "datum.value > 0.001 ? '10⁻²' : datum.value > 0.00001 ? '10⁻⁴' : '10⁻⁶'"}}
},
"layer": [
{"transform": [{"filter": "datum.k == 'g'"}], "mark": {"type": "line", "color": "#62c64f", "strokeWidth": 1.1}, "encoding": {"detail": {"field": "s"}}},
{"transform": [{"filter": "datum.k == 'k'"}], "mark": {"type": "line", "color": "#555560", "strokeWidth": 1.6}, "encoding": {"detail": {"field": "s"}}},
{"transform": [{"filter": "datum.k == 'r'"}], "mark": {"type": "line", "color": "#ec2d24", "strokeWidth": 1.6, "strokeDash": [8, 5]}, "encoding": {"detail": {"field": "s"}}},
{"transform": [{"filter": "datum.k == 'b'"}], "mark": {"type": "line", "color": "#3848c0", "strokeWidth": 1.1, "strokeDash": [7, 3, 1.5, 3]}, "encoding": {"detail": {"field": "s"}}}
]
},
{
"title": "(d) Future Climate 2081–2100",
"width": 388, "height": 226,
"data": {"name": "d"},
"encoding": {
"x": {"field": "x", "type": "quantitative", "scale": {"domain": [0, 70], "nice": false}, "axis": {"values": [10,20,30,40,50,60,70], "title": "Rain Depth [mm]"}},
"y": {"field": "p", "type": "quantitative", "scale": {"type": "log", "domain": [0.000001, 0.1], "nice": false}, "axis": {"values": [0.000001, 0.0001, 0.01], "title": "P(R>r)", "labelExpr": "datum.value > 0.001 ? '10⁻²' : datum.value > 0.00001 ? '10⁻⁴' : '10⁻⁶'"}}
},
"layer": [
{"transform": [{"filter": "datum.k == 'g'"}], "mark": {"type": "line", "color": "#62c64f", "strokeWidth": 1.1}, "encoding": {"detail": {"field": "s"}}},
{"transform": [{"filter": "datum.k == 'k'"}], "mark": {"type": "line", "color": "#555560", "strokeWidth": 1.6}, "encoding": {"detail": {"field": "s"}}},
{"transform": [{"filter": "datum.k == 'r'"}], "mark": {"type": "line", "color": "#ec2d24", "strokeWidth": 1.6, "strokeDash": [8, 5]}, "encoding": {"detail": {"field": "s"}}},
{"transform": [{"filter": "datum.k == 'b'"}], "mark": {"type": "line", "color": "#3848c0", "strokeWidth": 1.1, "strokeDash": [7, 3, 1.5, 3]}, "encoding": {"detail": {"field": "s"}}}
]
}
],
"config": {
"font": "Liberation Sans",
"view": {"stroke": "#111", "strokeWidth": 1.3},
"axis": {"grid": true, "gridColor": "#222", "gridDash": [1.5, 5], "gridWidth": 1, "gridOpacity": 1, "ticks": false, "domain": false, "labelFont": "Liberation Sans", "labelFontSize": 19, "labelFontWeight": "bold", "labelColor": "#111", "titleFont": "Liberation Sans", "titleFontSize": 21, "titleFontWeight": "bold", "titleColor": "#111"},
"axisX": {"labelPadding": 10, "titleX": 220, "titleY": 50, "titleBaseline": "alphabetic"},
"axisY": {"labelPadding": 14, "titleX": -52, "titleY": 127, "titleBaseline": "alphabetic", "titleAngle": -90},
"title": {"font": "Liberation Sans", "fontSize": 24, "fontWeight": "bold", "color": "#111", "offset": 7, "baseline": "alphabetic"}
}
}
